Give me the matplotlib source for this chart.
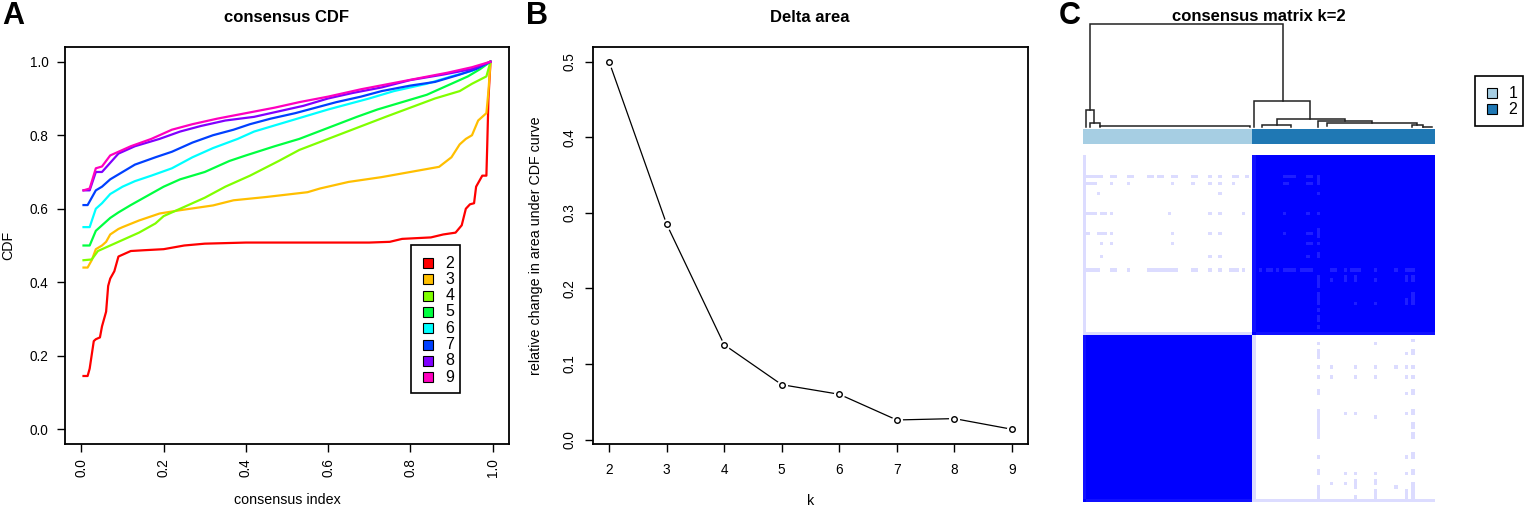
import numpy as np
import matplotlib
matplotlib.use("Agg")
import matplotlib.pyplot as plt
from matplotlib.colors import LinearSegmentedColormap, ListedColormap
from matplotlib.patches import Rectangle

plt.rcParams['font.family'] = ['Liberation Sans', 'DejaVu Sans']

# ---- panel A: consensus CDF curves (x = consensus index, y = CDF) ----
cdf_k = [2, 3, 4, 5, 6, 7, 8, 9]
cdf_colors = ['#FF0000', '#FFBF00', '#80FF00', '#00FF40', '#00FFFF', '#0040FF', '#8000FF', '#FF00BF']

k2_x = [0.005, 0.015, 0.02, 0.03, 0.035, 0.045, 0.05, 0.06, 0.065, 0.07, 0.08, 0.09, 0.10, 0.12, 0.15,
        0.20, 0.25, 0.30, 0.40, 0.50, 0.60, 0.70, 0.75, 0.78, 0.85, 0.88, 0.91, 0.925, 0.935, 0.945,
        0.955, 0.96, 0.965, 0.975, 0.985, 0.987, 0.99, 0.995]
k2_y = [0.145, 0.145, 0.165, 0.24, 0.245, 0.25, 0.28, 0.32, 0.39, 0.41, 0.43, 0.47, 0.475, 0.485, 0.487,
        0.49, 0.50, 0.505, 0.508, 0.508, 0.508, 0.508, 0.51, 0.518, 0.522, 0.53, 0.535, 0.555, 0.60, 0.612,
        0.615, 0.66, 0.67, 0.69, 0.69, 0.77, 0.90, 1.0]
k3_x = [0.005, 0.015, 0.025, 0.035, 0.05, 0.06, 0.07, 0.09, 0.10, 0.14, 0.19, 0.24, 0.32, 0.37, 0.45,
        0.55, 0.58, 0.65, 0.73, 0.80, 0.87, 0.90, 0.92, 0.935, 0.95, 0.965, 0.98, 0.985, 0.99, 0.995]
k3_y = [0.44, 0.44, 0.46, 0.49, 0.50, 0.51, 0.53, 0.545, 0.55, 0.568, 0.587, 0.596, 0.609, 0.623, 0.632,
        0.645, 0.655, 0.673, 0.686, 0.70, 0.714, 0.74, 0.775, 0.79, 0.80, 0.84, 0.855, 0.86, 0.92, 1.0]
k4_x = [0.005, 0.025, 0.04, 0.05, 0.07, 0.10, 0.14, 0.18, 0.20, 0.24, 0.30, 0.35, 0.41, 0.48, 0.53,
        0.60, 0.67, 0.74, 0.80, 0.86, 0.92, 0.95, 0.985, 0.995]
k4_y = [0.46, 0.462, 0.485, 0.49, 0.50, 0.515, 0.535, 0.56, 0.58, 0.60, 0.63, 0.66, 0.69, 0.73, 0.76,
        0.79, 0.82, 0.85, 0.875, 0.90, 0.92, 0.94, 0.96, 1.0]
k5_x = [0.005, 0.02, 0.035, 0.05, 0.07, 0.09, 0.12, 0.16, 0.20, 0.24, 0.30, 0.36, 0.40, 0.47, 0.53,
        0.60, 0.67, 0.72, 0.78, 0.84, 0.88, 0.94, 0.97, 0.995]
k5_y = [0.50, 0.50, 0.54, 0.555, 0.575, 0.59, 0.61, 0.635, 0.66, 0.68, 0.70, 0.73, 0.745, 0.77, 0.79,
        0.82, 0.85, 0.87, 0.89, 0.91, 0.93, 0.96, 0.98, 1.0]
k6_x = [0.005, 0.02, 0.035, 0.05, 0.07, 0.10, 0.13, 0.17, 0.22, 0.27, 0.32, 0.38, 0.42, 0.48, 0.54,
        0.60, 0.65, 0.70, 0.76, 0.84, 0.90, 0.95, 0.995]
k6_y = [0.55, 0.55, 0.60, 0.615, 0.64, 0.66, 0.675, 0.69, 0.71, 0.74, 0.765, 0.79, 0.81, 0.83, 0.85,
        0.87, 0.885, 0.90, 0.92, 0.94, 0.96, 0.975, 1.0]
k7_x = [0.005, 0.015, 0.035, 0.05, 0.07, 0.10, 0.13, 0.18, 0.22, 0.27, 0.32, 0.37, 0.41, 0.46, 0.52,
        0.57, 0.62, 0.68, 0.73, 0.80, 0.86, 0.92, 0.96, 0.995]
k7_y = [0.61, 0.61, 0.65, 0.66, 0.68, 0.70, 0.72, 0.74, 0.755, 0.78, 0.80, 0.815, 0.83, 0.845, 0.86,
        0.875, 0.89, 0.905, 0.92, 0.935, 0.945, 0.965, 0.98, 1.0]
k8_x = [0.005, 0.02, 0.035, 0.05, 0.07, 0.09, 0.13, 0.19, 0.24, 0.29, 0.35, 0.42, 0.48, 0.54, 0.60,
        0.66, 0.73, 0.80, 0.88, 0.95, 0.995]
k8_y = [0.65, 0.65, 0.70, 0.70, 0.725, 0.75, 0.77, 0.79, 0.81, 0.825, 0.84, 0.85, 0.865, 0.88, 0.90,
        0.915, 0.93, 0.95, 0.965, 0.98, 1.0]
k9_x = [0.005, 0.02, 0.035, 0.05, 0.07, 0.09, 0.12, 0.17, 0.22, 0.27, 0.33, 0.40, 0.47, 0.53, 0.60,
        0.68, 0.75, 0.82, 0.89, 0.95, 0.995]
k9_y = [0.65, 0.655, 0.71, 0.715, 0.745, 0.755, 0.77, 0.79, 0.815, 0.83, 0.845, 0.86, 0.875, 0.89, 0.905,
        0.925, 0.94, 0.955, 0.97, 0.985, 1.0]
cdf_x = [k2_x, k3_x, k4_x, k5_x, k6_x, k7_x, k8_x, k9_x]
cdf_y = [k2_y, k3_y, k4_y, k5_y, k6_y, k7_y, k8_y, k9_y]

# ---- panel B: delta area ----
delta_k = [2, 3, 4, 5, 6, 7, 8, 9]
delta_val = [0.5, 0.285, 0.1255, 0.0727, 0.060, 0.026, 0.0278, 0.0137]

# ---- panel C: consensus matrix k=2 ----
n1 = 50   # samples in cluster 1
n2 = 54   # samples in cluster 2
cluster_names = ['1', '2']
cluster_colors = ['#A6CEE3', '#1F78B4']
# cluster-2 sample -> cluster-1 samples it is sometimes grouped with
cross_links = {
    97: [1, 2, 3, 4, 5, 8, 9, 13, 14, 19, 20, 22, 23, 26, 27, 32, 33, 37, 40, 44, 45, 48],
    95: [1, 2, 3, 8, 13, 26, 32, 37, 40, 44],
    92: [4, 40],
    86: [1, 2, 3, 5, 6, 8, 25, 37, 40, 47],
    80: [1, 4, 5, 6, 8, 26, 37, 40],
    77: [5, 8, 26],
    73: [5, 37, 40],
    69: [1, 2, 3, 4, 8, 9, 13, 19, 20, 21, 22, 23, 24, 25, 26, 27, 32, 33, 37, 40, 43, 44, 45, 47],
}
# weaker agreement inside cluster 2
inner_links = {
    69: [52, 54, 55, 57, 59, 60, 61, 62, 64, 65, 66, 67, 73, 74, 77, 79, 80, 81, 86, 92, 95, 96, 97],
    97: [59, 60, 61, 62, 66, 67],
    95: [59, 60, 66, 67],
    86: [59, 66],
    80: [59, 66, 67],
    77: [66, 67],
    73: [66],
}
edge_samples = [0, 50]   # samples faintly linked to the whole other cluster
faint_val = 0.14
weak_val = 0.88
edge_same_val = 0.93

# dendrogram merges: (left pos, right pos, height, left child height, right child height)
dendro = [
    (2.07, 59.1, 1.0, 0.165, 0.252),
    (0.8, 3.34, 0.165, 0.0, 0.042),
    (2.07, 5.0, 0.042, 0.0, 0.008),
    (5.0, 49.3, 0.008, 0.0, 0.0),
    (50.5, 67.1, 0.252, 0.0, 0.08),
    (57.3, 77.4, 0.08, 0.024, 0.058),
    (52.9, 61.4, 0.024, 0.0, 0.0),
    (69.4, 85.4, 0.058, 0.0, 0.039),
    (72.1, 98.7, 0.039, 0.005, 0.015),
    (97.2, 100.4, 0.015, 0.0, 0.0),
    (100.4, 103.1, 0.004, 0.0, 0.0),
]

W, H = 1525, 509
fig = plt.figure(figsize=(W / 100, H / 100), dpi=100)


def px_axes(x0, y0, x1, y1):
    return fig.add_axes([x0 / W, 1 - y1 / H, (x1 - x0) / W, (y1 - y0) / H])


def fx(x):
    return x / W


def fy(y):
    return 1 - y / H


def r_style(ax):
    for s in ax.spines.values():
        s.set_linewidth(1.3)
    ax.tick_params(direction='out', length=6, width=1, labelsize=9.8, colors='black')


def box_legend(x0, y0, x1, y1, colors, names, ys, sq_x, txt_x):
    fig.add_artist(Rectangle((fx(x0), fy(y1)), (x1 - x0) / W, (y1 - y0) / H, transform=fig.transFigure,
                             facecolor='white', edgecolor='black', lw=1.2))
    for c, n, y in zip(colors, names, ys):
        fig.add_artist(Rectangle((fx(sq_x), fy(y + 5)), 10 / W, 10 / H, transform=fig.transFigure,
                                 facecolor=c, edgecolor='black', lw=0.8))
        fig.text(fx(txt_x), fy(y), n, fontsize=11.5, ha='center', va='center')


# panel A
axA = px_axes(65, 47, 509, 444)
for x, y, c in zip(cdf_x, cdf_y, cdf_colors):
    axA.plot(x, y, color=c, lw=1.6)
axA.set_xlim(-0.04, 1.04)
axA.set_ylim(-0.04, 1.04)
axA.set_xticks([0, 0.2, 0.4, 0.6, 0.8, 1.0])
axA.set_yticks([0, 0.2, 0.4, 0.6, 0.8, 1.0])
axA.set_xticklabels(['0.0', '0.2', '0.4', '0.6', '0.8', '1.0'], rotation=90)
axA.set_yticklabels(['0.0', '0.2', '0.4', '0.6', '0.8', '1.0'])
r_style(axA)
axA.tick_params(axis='x', pad=4)
axA.tick_params(axis='y', pad=6)
axA.set_xlabel('consensus index', fontsize=10.3, labelpad=12)
axA.set_ylabel('CDF', fontsize=10.3, labelpad=10)
fig.text(fx(287), fy(21.5), 'consensus CDF', fontsize=12, fontweight='bold', ha='center', va='baseline')
box_legend(411, 245, 460, 393, cdf_colors, [str(k) for k in cdf_k],
           [263 + 16.3 * i for i in range(len(cdf_k))], 423, 450)

# panel B
axB = px_axes(593, 47, 1028, 444)
axB.plot(delta_k, delta_val, color='black', lw=0.9)
axB.plot(delta_k, delta_val, 'o', ms=8, mfc='white', mec='none')
axB.plot(delta_k, delta_val, 'o', ms=4, mfc='white', mec='black', mew=1)
axB.set_xlim(1.72, 9.28)
axB.set_ylim(-0.0058, 0.5195)
axB.set_xticks(delta_k)
axB.set_yticks([0, 0.1, 0.2, 0.3, 0.4, 0.5])
axB.set_yticklabels(['0.0', '0.1', '0.2', '0.3', '0.4', '0.5'])
r_style(axB)
axB.tick_params(axis='y', labelrotation=90, pad=6)
axB.tick_params(axis='x', pad=8)
for t in axB.get_yticklabels():
    t.set_va('center')
axB.set_xlabel('k', fontsize=10.3, labelpad=12)
axB.set_ylabel('relative change in area under CDF curve', fontsize=10.3, labelpad=14)
fig.text(fx(810), fy(21.5), 'Delta area', fontsize=12, fontweight='bold', ha='center', va='baseline')

# panel C: build consensus matrix
N = n1 + n2
M = np.zeros((N, N))
M[:n1, :n1] = 1.0
M[n1:, n1:] = 1.0
for s in edge_samples:
    other = range(n1, N) if s < n1 else range(0, n1)
    same = range(0, n1) if s < n1 else range(n1, N)
    for j in other:
        M[s, j] = M[j, s] = faint_val
    for j in same:
        if j != s:
            M[s, j] = M[j, s] = edge_same_val
for i, js in cross_links.items():
    for j in js:
        M[i, j] = M[j, i] = faint_val
for i, js in inner_links.items():
    for j in js:
        M[i, j] = M[j, i] = weak_val

cmap = LinearSegmentedColormap.from_list('wb', ['#FFFFFF', '#0000FF'])
axM = px_axes(1083, 155, 1435, 502)
axM.imshow(M, cmap=cmap, vmin=0, vmax=1, origin='lower', aspect='auto',
           interpolation='nearest', extent=(0, N, 0, N))
axM.axis('off')

axS = px_axes(1083, 129, 1435, 144)
labels = np.array([[0] * n1 + [1] * n2])
axS.imshow(labels, cmap=ListedColormap(cluster_colors), aspect='auto',
           interpolation='nearest', extent=(0, N, 0, 1))
axS.axis('off')

axD = px_axes(1083, 24, 1435, 127)
for xl, xr, h, hl, hr in dendro:
    axD.plot([xl, xl, xr, xr], [hl, h, h, hr], color='#222222', lw=1.1,
             solid_joinstyle='miter', clip_on=False)
axD.set_xlim(0, N)
axD.set_ylim(0, 1)
axD.axis('off')
fig.text(fx(1259), fy(21), 'consensus matrix k=2', fontsize=12, fontweight='bold', ha='center', va='baseline')
box_legend(1475, 76, 1523, 126, cluster_colors, cluster_names, [93, 109], 1487, 1513)

# panel letters
for lx, letter in [(2, 'A'), (526, 'B'), (1059, 'C')]:
    fig.text(fx(lx), fy(24), letter, fontsize=22, fontweight='bold', ha='left', va='baseline')

fig.savefig('out.png', dpi=100)
